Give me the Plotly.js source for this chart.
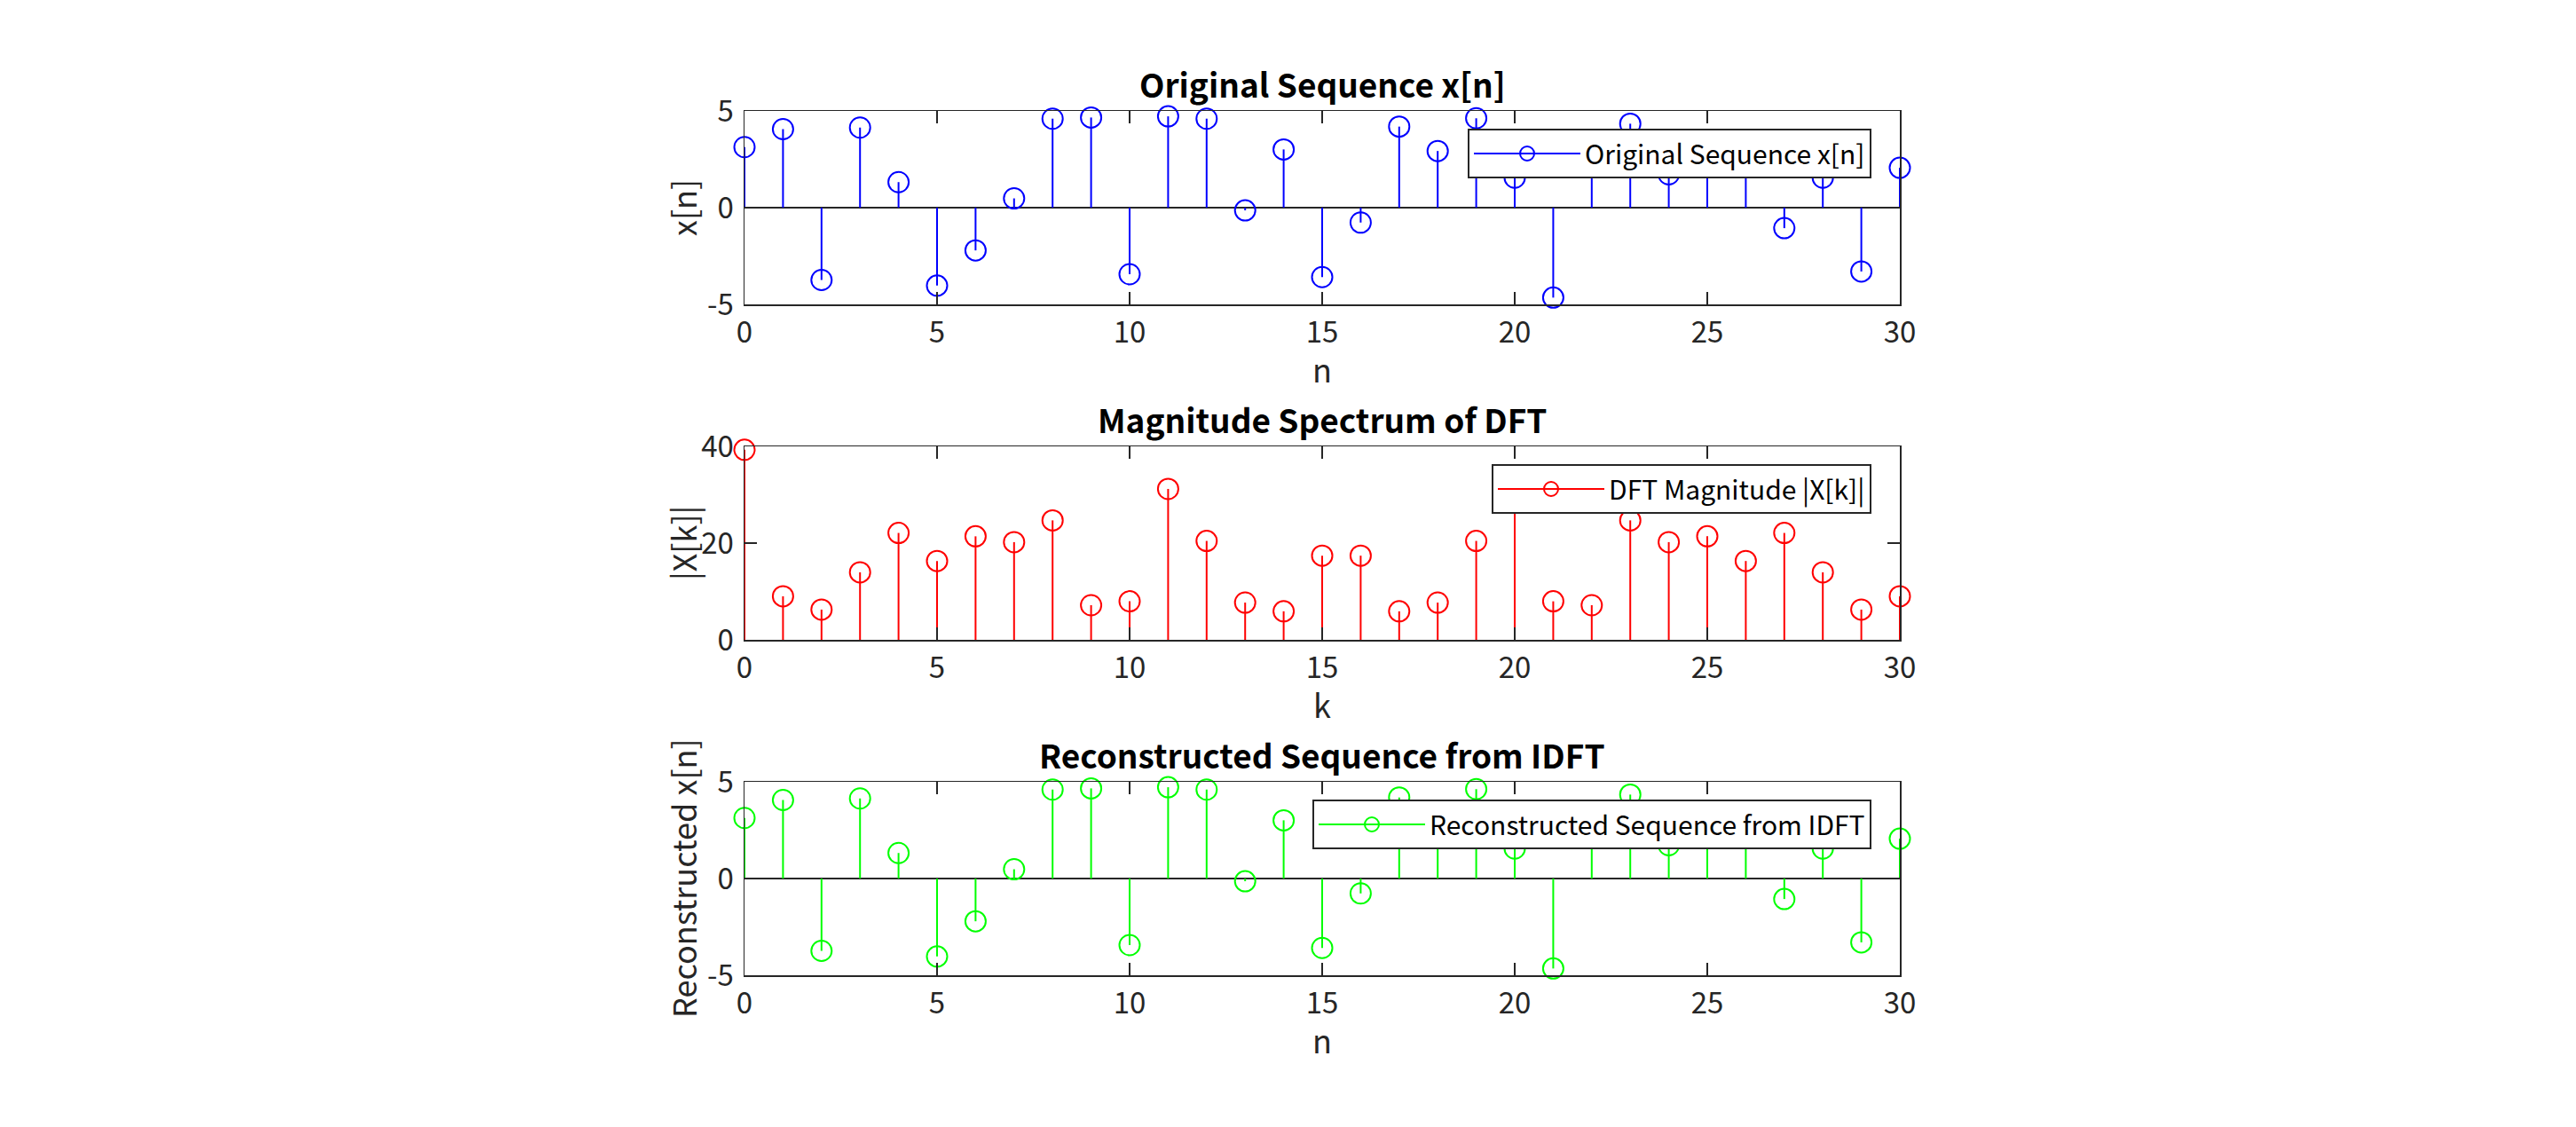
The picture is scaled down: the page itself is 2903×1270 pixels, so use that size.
<!DOCTYPE html>
<html><head><meta charset="utf-8">
<script src="https://cdn.plot.ly/plotly-3.0.1.min.js"></script>
<style>html,body{margin:0;padding:0;background:#fff;} #chart{width:2903px;height:1270px;}</style>
</head><body><div id="chart"></div>
<script>
// ---- data ----
const nIndex = [0,1,2,3,4,5,6,7,8,9,10,11,12,13,14,15,16,17,18,19,20,21,22,23,24,25,26,27,28,29,30];
const kIndex = [0,1,2,3,4,5,6,7,8,9,10,11,12,13,14,15,16,17,18,19,20,21,22,23,24,25,26,27,28,29,30];
const xOriginal = [3.13, 4.06, -3.74, 4.14, 1.32, -4.03, -2.21, 0.48, 4.60, 4.66, -3.44, 4.72, 4.60, -0.14, 3.01,
                   -3.59, -0.77, 4.19, 2.93, 4.62, 1.55, -4.65, 2.9, 4.34, 1.72, 3.0, 2.7, -1.06, 1.55, -3.30, 2.06];
const dftMagnitude = [39.3, 9.0, 6.25, 13.96, 22.1, 16.3, 21.4, 20.2, 24.7, 7.16, 7.96, 31.2, 20.45, 7.7, 5.9,
                      17.4, 17.4, 5.9, 7.7, 20.45, 31.2, 7.96, 7.16, 24.7, 20.2, 21.4, 16.3, 22.1, 13.96, 6.25, 9.0];
const xReconstructed = [3.13, 4.06, -3.74, 4.14, 1.32, -4.03, -2.21, 0.48, 4.60, 4.66, -3.44, 4.72, 4.60, -0.14, 3.01,
                        -3.59, -0.77, 4.19, 2.93, 4.62, 1.55, -4.65, 2.9, 4.34, 1.72, 3.0, 2.7, -1.06, 1.55, -3.30, 2.06];
const xTickVals = [0,5,10,15,20,25,30];
const yTicks1 = [-5,0,5];
const yTicks2 = [0,20,40];
const titles = ['Original Sequence x[n]', 'Magnitude Spectrum of DFT', 'Reconstructed Sequence from IDFT'];
const xLabels = ['n', 'k', 'n'];
const yLabels = ['x[n]', '|X[k]|', 'Reconstructed x[n]'];
const legendNames = ['Original Sequence x[n]', 'DFT Magnitude |X[k]|', 'Reconstructed Sequence from IDFT'];
const colors = ['#0000ff', '#ff0000', '#00ff00'];

// ---- styling ----
const FONT = '"Noto Sans CJK SC", "Source Sans Pro", "Noto Sans", sans-serif';
const AX = '#262626';
const MS = 23;
const CLEAR = 'rgba(0,0,0,0)';

function stemTrace(idx, vals, color, name, xa, ya, leg) {
  const xs = [], ys = [], mc = [];
  for (let i = 0; i < idx.length; i++) {
    // tip first (carries the visible marker), then the baseline point
    xs.push(idx[i], idx[i], null);
    ys.push(vals[i], 0, null);
    mc.push(color, CLEAR, CLEAR);
  }
  return {
    type: 'scatter', mode: 'lines+markers', x: xs, y: ys, name: name,
    xaxis: xa, yaxis: ya, legend: leg, connectgaps: false, cliponaxis: false,
    line: {color: color, width: 2},
    marker: {symbol: 'circle-open', size: MS, color: mc, line: {color: mc, width: 2}}
  };
}

const data = [
  stemTrace(nIndex, xOriginal, colors[0], legendNames[0], 'x', 'y', 'legend'),
  stemTrace(kIndex, dftMagnitude, colors[1], legendNames[1], 'x2', 'y2', 'legend2'),
  stemTrace(nIndex, xReconstructed, colors[2], legendNames[2], 'x3', 'y3', 'legend3')
];

const W = 2903, H = 1270;
const xDom = [839 / W, 2141 / W];
const yDoms = [[1 - 343 / H, 1 - 125 / H], [1 - 721 / H, 1 - 503 / H], [1 - 1099 / H, 1 - 881 / H]];
const TICKFONT = 33, LABELFONT = 36, TITLEFONT = 37, LEGENDFONT = 30;

function xAxis(anchor) {
  return {
    domain: xDom, anchor: anchor, range: [0, 30], tickvals: xTickVals, ticktext: xTickVals.map(String),
    ticks: 'inside', ticklen: 14, tickwidth: 1.5, tickcolor: AX,
    showline: true, linecolor: AX, linewidth: 1.5, mirror: 'ticks',
    showgrid: false, zeroline: false,
    tickfont: {family: FONT, size: TICKFONT, color: AX}, ticklabelstandoff: 2
  };
}
function yAxis(anchor, dom, range, ticks, zl) {
  return {
    domain: dom, anchor: anchor, range: range, tickvals: ticks, ticktext: ticks.map(String),
    ticks: 'inside', ticklen: 14, tickwidth: 1.5, tickcolor: AX,
    showline: true, linecolor: AX, linewidth: 1.5, mirror: 'ticks',
    showgrid: false, zeroline: zl, zerolinecolor: AX, zerolinewidth: 1.5,
    tickfont: {family: FONT, size: TICKFONT, color: AX}, ticklabelstandoff: 4
  };
}

const annotations = [];
const axPairs = [['x', 'y'], ['x2', 'y2'], ['x3', 'y3']];
for (let i = 0; i < 3; i++) {
  const [xa, ya] = axPairs[i];
  annotations.push({
    text: '<b>' + titles[i] + '</b>', xref: xa + ' domain', yref: ya + ' domain', x: 0.5, y: 1,
    xanchor: 'center', yanchor: 'bottom', yshift: 2, showarrow: false,
    font: {family: FONT, size: TITLEFONT, color: '#000'}
  });
  annotations.push({
    text: xLabels[i], xref: xa + ' domain', yref: ya + ' domain', x: 0.5, y: 0,
    xanchor: 'center', yanchor: 'top', yshift: -44, showarrow: false,
    font: {family: FONT, size: LABELFONT, color: AX}
  });
  annotations.push({
    text: yLabels[i], xref: xa + ' domain', yref: ya + ' domain', x: 0, y: 0.5,
    xanchor: 'center', yanchor: 'middle', xshift: -70, textangle: -90, showarrow: false,
    font: {family: FONT, size: LABELFONT, color: AX}
  });
}

function legendCfg(yTopPx) {
  return {
    x: 2109 / W, y: 1 - yTopPx / H, xanchor: 'right', yanchor: 'top',
    bgcolor: '#ffffff', bordercolor: AX, borderwidth: 2,
    font: {family: FONT, size: LEGENDFONT, color: '#000'}, itemwidth: 120
  };
}

const layout = {
  width: W, height: H, paper_bgcolor: '#ffffff', plot_bgcolor: '#ffffff',
  margin: {l: 0, r: 0, t: 0, b: 0},
  showlegend: true,
  xaxis: xAxis('y'), yaxis: yAxis('x', yDoms[0], [-5, 5], yTicks1, true),
  xaxis2: xAxis('y2'), yaxis2: yAxis('x2', yDoms[1], [0, 40], yTicks2, false),
  xaxis3: xAxis('y3'), yaxis3: yAxis('x3', yDoms[2], [-5, 5], yTicks1, true),
  legend: legendCfg(145), legend2: legendCfg(523), legend3: legendCfg(901),
  annotations: annotations
};

Plotly.newPlot('chart', data, layout, {displayModeBar: false, staticPlot: true});
</script>
</body></html>
